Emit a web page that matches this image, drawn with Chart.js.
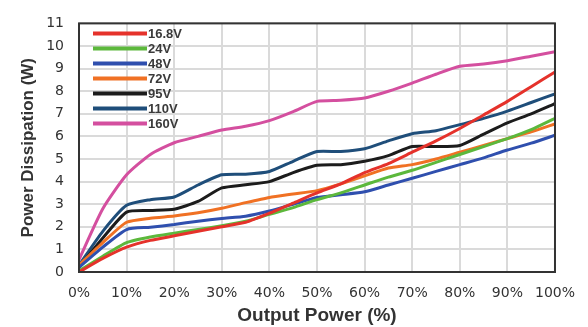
<!DOCTYPE html>
<html>
<head>
<meta charset="utf-8">
<script src="https://cdn.jsdelivr.net/npm/chart.js@4/dist/chart.umd.min.js"></script>
<style>
  html, body { margin: 0; padding: 0; background: #fff; }
  #wrap { width: 588px; height: 327px; position: relative; }
</style>
</head>
<body>
<div id="wrap"><canvas id="lossChart"></canvas></div>
<script>
// ===== DATA =====
const outputPct = [0, 5, 10, 15, 20, 25, 30, 35, 40, 45, 50, 55, 60, 65, 70, 75, 80, 85, 90, 95, 100];
const xTickLabels = ['0%', '10%', '20%', '30%', '40%', '50%', '60%', '70%', '80%', '90%', '100%'];
const yTickValues = [0, 1, 2, 3, 4, 5, 6, 7, 8, 9, 10, 11];

const seriesNames = ['16.8V', '24V', '48V', '72V', '95V', '110V', '160V'];
const seriesColors = ['#e5322b', '#5cb83c', '#2f4fae', '#f07124', '#1c1c1c', '#1f4e7a', '#d44f9f'];

const v16_8 = [0.0, 0.6, 1.1, 1.4, 1.6, 1.8, 2.0, 2.2, 2.6, 3.05, 3.5, 3.9, 4.4, 4.8, 5.3, 5.8, 6.35, 6.95, 7.55, 8.2, 8.85];
const v24   = [0.05, 0.7, 1.3, 1.55, 1.72, 1.88, 2.05, 2.25, 2.55, 2.85, 3.2, 3.5, 3.85, 4.2, 4.5, 4.85, 5.2, 5.55, 5.9, 6.3, 6.8];
const v48   = [0.2, 1.1, 1.88, 1.98, 2.1, 2.25, 2.37, 2.47, 2.7, 3.0, 3.3, 3.42, 3.55, 3.85, 4.15, 4.45, 4.75, 5.05, 5.4, 5.7, 6.05];
const v72   = [0.3, 1.3, 2.2, 2.38, 2.48, 2.62, 2.82, 3.07, 3.3, 3.45, 3.6, 3.9, 4.25, 4.6, 4.75, 5.0, 5.3, 5.6, 5.9, 6.2, 6.55];
const v95   = [0.2, 1.5, 2.65, 2.72, 2.78, 3.12, 3.72, 3.86, 4.0, 4.4, 4.72, 4.75, 4.9, 5.15, 5.55, 5.55, 5.6, 6.1, 6.6, 7.0, 7.45];
const v110  = [0.3, 1.8, 2.95, 3.2, 3.32, 3.85, 4.3, 4.33, 4.45, 4.9, 5.33, 5.33, 5.45, 5.8, 6.12, 6.25, 6.52, 6.8, 7.12, 7.5, 7.88];
const v160  = [0.55, 2.8, 4.3, 5.2, 5.72, 6.0, 6.28, 6.45, 6.7, 7.1, 7.55, 7.6, 7.7, 8.0, 8.36, 8.75, 9.1, 9.2, 9.35, 9.55, 9.75];

const seriesValues = [v16_8, v24, v48, v72, v95, v110, v160];

(function () {
  'use strict';

  const FONT = "'DejaVu Sans', sans-serif";
  const TEXT = '#333';

  // legend drawn inside the plot, top-left
  const insideLegend = {
    id: 'insideLegend',
    afterDatasetsDraw(chart) {
      const ctx = chart.ctx;
      const area = chart.chartArea;
      ctx.save();
      ctx.font = "bold 13px 'Liberation Sans', sans-serif";
      ctx.textBaseline = 'middle';
      chart.data.datasets.forEach(function (ds, i) {
        const y = area.top + 10 + i * 15;
        ctx.strokeStyle = ds.borderColor;
        ctx.lineWidth = 4;
        ctx.beginPath();
        ctx.moveTo(area.left + 14, y);
        ctx.lineTo(area.left + 68, y);
        ctx.stroke();
        ctx.fillStyle = '#3a3a3a';
        ctx.fillText(ds.label, area.left + 69, y + 1);
      });
      ctx.restore();
    }
  };

  // dark frame round the plot area
  const plotFrame = {
    id: 'plotFrame',
    afterDraw(chart) {
      const a = chart.chartArea;
      const ctx = chart.ctx;
      ctx.save();
      ctx.strokeStyle = '#333';
      ctx.lineWidth = 2;
      ctx.strokeRect(a.left, a.top, a.right - a.left, a.bottom - a.top);
      ctx.restore();
    }
  };

  const datasets = seriesNames.map(function (name, i) {
    return {
      label: name,
      data: outputPct.map(function (x, j) { return { x: x, y: seriesValues[i][j] }; }),
      borderColor: seriesColors[i],
      backgroundColor: seriesColors[i],
      borderWidth: 3,
      pointRadius: 0,
      tension: 0.2,
      fill: false
    };
  });

  new Chart(document.getElementById('lossChart').getContext('2d'), {
    type: 'line',
    data: { datasets: datasets },
    options: {
      responsive: true,
      maintainAspectRatio: false,
      animation: false,
      layout: { padding: { top: 20, right: 29, left: 0, bottom: 0 } },
      plugins: {
        legend: { display: false },
        tooltip: { enabled: false }
      },
      scales: {
        x: {
          type: 'linear',
          min: 0,
          max: 100,
          afterBuildTicks: function (axis) {
            axis.ticks = xTickLabels.map(function (t, i) { return { value: i * 10 }; });
          },
          afterFit: function (axis) { axis.height = 55; },
          ticks: {
            color: TEXT,
            font: { family: FONT, size: 14 },
            padding: 13,
            maxRotation: 0,
            callback: function (value, index) { return xTickLabels[index]; }
          },
          grid: { color: '#dadada', lineWidth: 2, drawTicks: false },
          border: { display: false },
          title: {
            display: true,
            text: 'Output Power (%)',
            color: TEXT,
            font: { family: "'Liberation Sans', sans-serif", size: 19, weight: 'bold' },
            padding: { top: 1, bottom: 0 }
          }
        },
        y: {
          type: 'linear',
          min: 0,
          max: 11,
          afterBuildTicks: function (axis) {
            axis.ticks = yTickValues.map(function (v) { return { value: v }; });
          },
          afterFit: function (axis) { axis.width = 79; },
          ticks: {
            color: TEXT,
            font: { family: FONT, size: 14 },
            padding: 15
          },
          grid: { color: '#dadada', lineWidth: 2, drawTicks: false },
          border: { display: false },
          title: {
            display: true,
            text: 'Power Dissipation (W)',
            color: TEXT,
            font: { family: "'Liberation Sans', sans-serif", size: 17, weight: 'bold' },
            padding: { top: 18, bottom: 0 }
          }
        }
      }
    },
    plugins: [insideLegend, plotFrame]
  });
})();
</script>
</body>
</html>
